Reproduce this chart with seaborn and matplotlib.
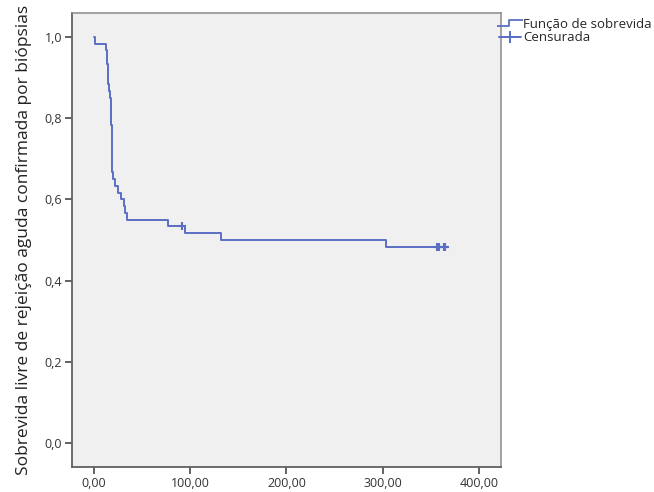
"""Kaplan-Meier curve: sobrevida livre de rejeicao aguda (SPSS style)"""

import numpy as np
import pandas as pd
import seaborn as sns
import matplotlib.pyplot as plt
from matplotlib.lines import Line2D
from matplotlib.path import Path
from matplotlib.ticker import FuncFormatter

# follow-up times (days) and status (1 = rejection, 0 = censored)
event_times = [1, 12.5, 13, 13, 14, 14, 15, 15.5, 17, 18, 18, 18, 18,
               18.7, 18.7, 18.7, 18.7, 18.7, 18.7, 18.7, 19.7, 21.5, 25,
               28, 31, 32.5, 34.6, 77, 94.5, 132, 304]
censored_times = [91, 356, 356, 356, 359, 364, 364, 364, 364, 364, 364,
                  364, 364, 364, 364, 364, 365, 365, 365, 365, 365, 365,
                  365, 365, 365, 365, 365, 365, 365]

x_ticks = [0, 100, 200, 300, 400]
y_ticks = [0.0, 0.2, 0.4, 0.6, 0.8, 1.0]

line_color = '#5a6fc4'


def kaplan_meier(events, censored):
    """Return step coordinates and censor-mark coordinates"""
    df = pd.DataFrame({'t': list(events) + list(censored),
                       'd': [1] * len(events) + [0] * len(censored)})
    n_risk = len(df)
    surv = 1.0
    xs, ys = [0.0], [1.0]
    cx, cy = [], []
    for t, grp in df.groupby('t', sort=True):
        d = grp['d'].sum()
        c = len(grp) - d
        if d > 0:
            surv = surv * (n_risk - d) / n_risk
            xs.append(t)
            ys.append(surv)
        if c > 0:
            cx.append(t)
            cy.append(surv)
        n_risk -= len(grp)
    xs.append(max(df['t']))
    ys.append(surv)
    return xs, ys, cx, cy


xs, ys, cx, cy = kaplan_meier(event_times, censored_times)

sns.set_style('ticks')
plt.rcParams['font.family'] = ['Open Sans', 'DejaVu Sans']

fig = plt.figure(figsize=(6.54, 4.92), dpi=100)
ax = fig.add_axes([0.110, 0.0508, 0.656, 0.9228])
ax.set_facecolor('#f0f0f0')

sns.lineplot(x=xs, y=ys, ax=ax, drawstyle='steps-post', estimator=None,
             sort=False, color=line_color, linewidth=1.4)
sns.scatterplot(x=cx, y=cy, ax=ax, marker='+', s=36, color=line_color,
                linewidth=1.5, zorder=3)

ax.set_xlim(-23, 423)
ax.set_ylim(-0.059, 1.059)
ax.set_xticks(x_ticks)
ax.set_yticks(y_ticks)
ax.xaxis.set_major_formatter(FuncFormatter(lambda v, p: f"{v:.2f}".replace('.', ',')))
ax.yaxis.set_major_formatter(FuncFormatter(lambda v, p: f"{v:.1f}".replace('.', ',')))
ax.tick_params(axis='both', direction='out', length=5, width=1.3,
               color='#555555', labelcolor='#333333', labelsize=9, pad=2)
for side in ['left', 'right', 'top', 'bottom']:
    ax.spines[side].set_visible(True)
    ax.spines[side].set_color('#606060')
    ax.spines[side].set_linewidth(1.3)
for side in ['right', 'top']:
    ax.spines[side].set_color('#8a8a8a')
    ax.spines[side].set_linewidth(1.1)

ax.set_xlabel('')
ax.set_ylabel('Sobrevida livre de rejeição aguda confirmada por biópsias',
              fontsize=12.5, color='#222222', labelpad=9)

# step-shaped legend symbol like SPSS
step_path = Path([(-1, -0.2), (-0.1, -0.2), (-0.1, 0.2), (1, 0.2)],
                 [Path.MOVETO, Path.LINETO, Path.LINETO, Path.LINETO])
handles = [Line2D([], [], color=line_color, linestyle='', marker=step_path,
                  markersize=19, markerfacecolor='none', markeredgewidth=1.3),
           Line2D([], [], color=line_color, linewidth=1.4, marker='+',
                  markersize=8, markeredgewidth=1.4)]
ax.legend(handles, ['Função de sobrevida', 'Censurada'], loc='upper left',
          bbox_to_anchor=(0.995, 0.99), frameon=False, fontsize=9.5,
          handlelength=1.7, handletextpad=0.15, labelspacing=0.05,
          borderaxespad=0.0, borderpad=0.0)

plt.savefig('out.png', dpi=100)
